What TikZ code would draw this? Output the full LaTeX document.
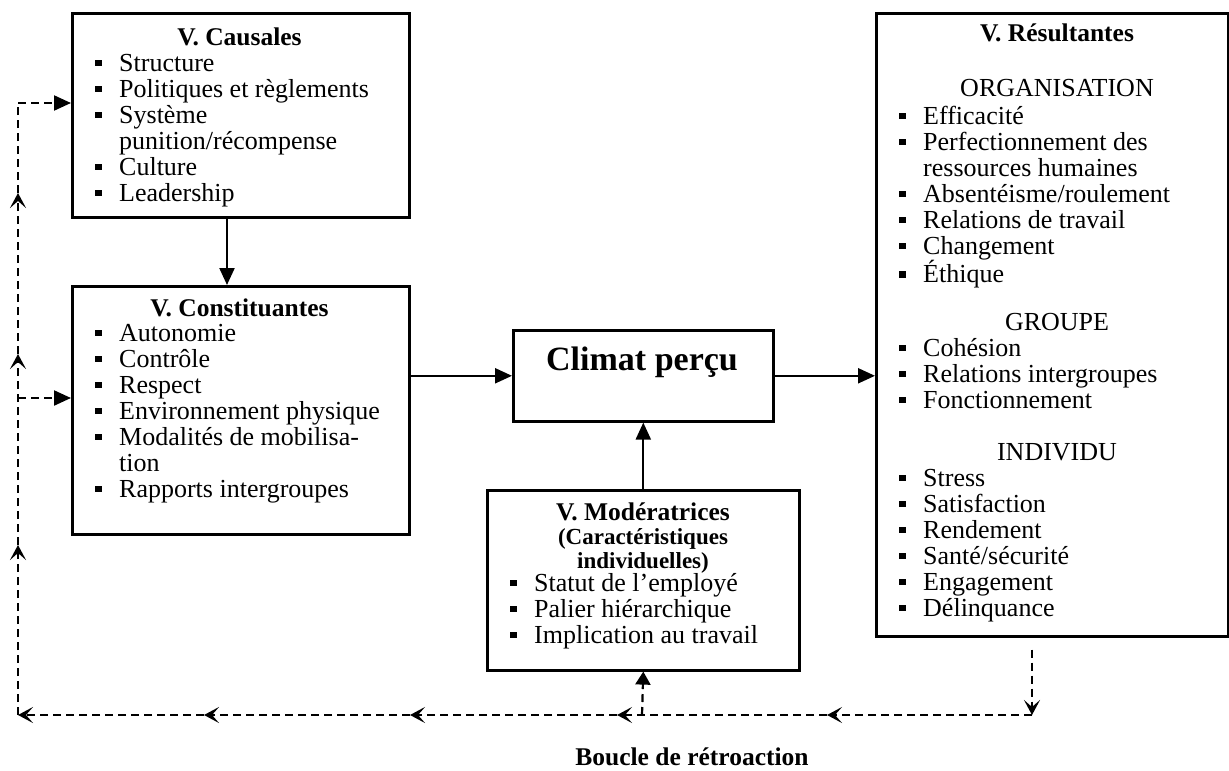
\documentclass[tikz,border=0pt]{standalone}
\usepackage{fontspec}
\setmainfont{Liberation Serif}
\usetikzlibrary{arrows.meta}
\newcommand\bitem[1]{\hangindent=24pt\hangafter=1\noindent\makebox[24pt][l]{\raisebox{5pt}{\rule{6.5pt}{6.5pt}}}#1\par}
\begin{document}
\begin{tikzpicture}[x=1pt,y=-1pt,
  box/.style={draw, line width=2.6pt, inner sep=0pt, anchor=north west},
  ttl/.style={inner sep=0pt, anchor=base, font=\fontsize{25.5}{26}\selectfont\bfseries},
  hdr/.style={inner sep=0pt, anchor=base, font=\fontsize{26}{26}\selectfont},
  sub/.style={inner sep=0pt, anchor=base, font=\fontsize{23}{24}\selectfont\bfseries},
  lst/.style={inner sep=0pt, anchor=base west, font=\fontsize{26}{26}\selectfont},
  solidarrow/.style={line width=2.2pt, -{Triangle[length=17pt,width=15pt]}},
  fb/.style={line width=2.2pt, dash pattern=on 8pt off 5pt},
  fbmid/.style={fb, -{Stealth[length=15pt,width=16pt,inset=7pt]}},
  fbin/.style={fb, -{Triangle[length=17pt,width=15pt]}},
  fbsmall/.style={fb, -{Triangle[length=13pt,width=15pt]}}
]
\useasboundingbox (0,0) rectangle (1229,771);

% boxes
\node[box, minimum width=337pt, minimum height=204pt] (causales) at (71,12) {};
\node[box, minimum width=337pt, minimum height=248pt] (constituantes) at (71,285) {};
\node[box, minimum width=260pt, minimum height=91pt] (climat) at (512,329) {};
\node[box, minimum width=312pt, minimum height=180pt] (moderatrices) at (486,489) {};
\node[box, minimum width=352pt, minimum height=623pt] (resultantes) at (875,12) {};

% Causales
\node[ttl] (causalesT) at (239.5,45) {V. Causales};
\node[lst] (causalesL) at (95,71) {\parbox[t]{300pt}{%
\bitem{Structure}
\bitem{Politiques et règlements}
\bitem{Système\\punition/récompense}
\bitem{Culture}
\bitem{Leadership}}};

% Constituantes
\node[ttl] (constituantesT) at (239.5,316) {V. Constituantes};
\node[lst] (constituantesL) at (95,341) {\parbox[t]{300pt}{%
\bitem{Autonomie}
\bitem{Contrôle}
\bitem{Respect}
\bitem{Environnement physique}
\bitem{Modalités de mobilisa-\\tion}
\bitem{Rapports intergroupes}}};

% Climat
\node[ttl, font=\fontsize{34}{40}\selectfont\bfseries] (climatT) at (642,370) {Climat perçu};

% Moderatrices
\node[ttl] (moderatricesT) at (643,520) {V. Modératrices};
\node[sub] (moderatricesS1) at (643,544) {(Caractéristiques};
\node[sub] (moderatricesS2) at (643,568) {individuelles)};
\node[lst] (moderatricesL) at (510,591) {\parbox[t]{280pt}{%
\bitem{Statut de l’employé}
\bitem{Palier hiérarchique}
\bitem{Implication au travail}}};

% Resultantes
\node[ttl] (resultantesT) at (1057,41) {V. Résultantes};
\node[hdr] (orgH) at (1057,96) {ORGANISATION};
\node[lst] (orgL) at (899,124) {\parbox[t]{320pt}{%
\bitem{Efficacité}
\bitem{Perfectionnement des\\ressources humaines}
\bitem{Absentéisme/roulement}
\bitem{Relations de travail}
\bitem{Changement}
\bitem{Éthique}}};
\node[hdr] (grpH) at (1057,330) {GROUPE};
\node[lst] (grpL) at (899,356) {\parbox[t]{320pt}{%
\bitem{Cohésion}
\bitem{Relations intergroupes}
\bitem{Fonctionnement}}};
\node[hdr] (indH) at (1057,460) {INDIVIDU};
\node[lst] (indL) at (899,486) {\parbox[t]{320pt}{%
\bitem{Stress}
\bitem{Satisfaction}
\bitem{Rendement}
\bitem{Santé/sécurité}
\bitem{Engagement}
\bitem{Délinquance}}};

% main arrows
\coordinate (cx) at (227,0);
\draw[solidarrow] (causales.south -| cx) -- (constituantes.north -| cx);
\draw[solidarrow] (constituantes.east |- climat.west) -- (climat.west);
\draw[solidarrow] (climat.east) -- (resultantes.west |- climat.east);
\draw[solidarrow] (moderatrices.north) -- (climat.south);

% feedback loop
\coordinate (fbR) at (1032,715);
\coordinate (fbA) at (827,715);
\coordinate (fbB) at (617,715);
\coordinate (fbM) at (642,715);
\coordinate (fbC) at (410,715);
\coordinate (fbD) at (204,715);
\coordinate (fbL) at (18,715);
\coordinate (fbU1) at (18,545);
\coordinate (fbU2) at (18,354);
\coordinate (fbU3) at (18,193);
\coordinate (fbT) at (18,103);
\coordinate (fbK) at (18,398);

\draw[fbmid, shorten <=12pt] (resultantes.south -| fbR) -- (fbR);
\draw[fbmid] (fbR) -- (fbA);
\draw[fbmid] (fbA) -- (fbB);
\draw[fbmid] (fbB) -- (fbC);
\draw[fbmid] (fbC) -- (fbD);
\draw[fbmid] (fbD) -- (fbL);
\draw[fbmid] (fbL) -- (fbU1);
\draw[fbmid] (fbU1) -- (fbU2);
\draw[fbmid] (fbU2) -- (fbU3);
\draw[fb] (fbU3) -- (fbT);
\draw[fbin] (fbT) -- (causales.west |- fbT);
\draw[fbin] (fbK) -- (constituantes.west |- fbK);
\draw[fbsmall] (fbM) -- (moderatrices.south);

\node[ttl] (boucle) at (692,765) {Boucle de rétroaction};
\end{tikzpicture}
\end{document}
